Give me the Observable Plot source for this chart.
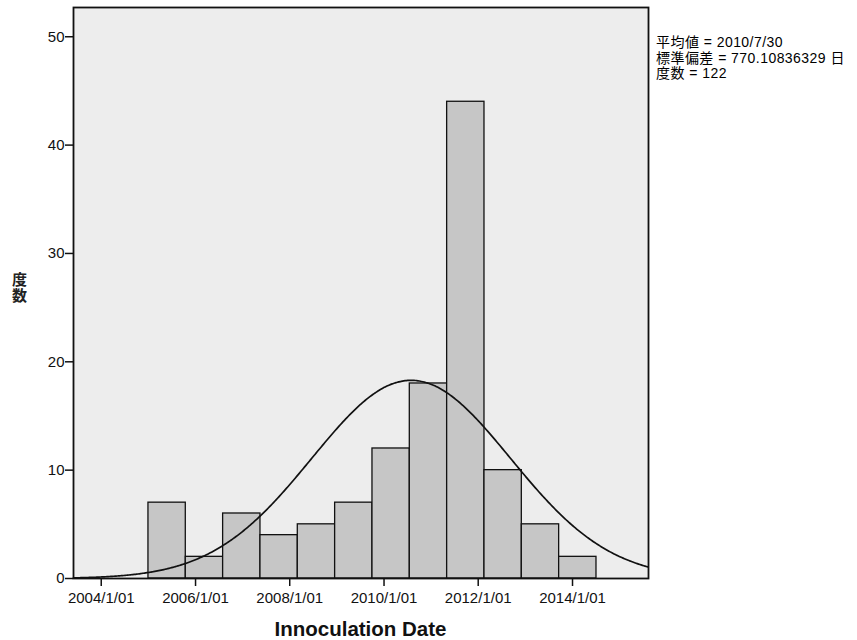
<!DOCTYPE html>
<html>
<head>
<meta charset="utf-8">
<script src="https://cdn.jsdelivr.net/npm/d3@7"></script>
<script src="https://cdn.jsdelivr.net/npm/@observablehq/plot@0.6"></script>
<style>
  html, body { margin: 0; padding: 0; background: #fff; }
  #wrap { position: relative; width: 857px; height: 640px; overflow: hidden; }
  #legend { position: absolute; left: 656px; top: 35px; font-family: "Liberation Sans", "Noto Sans CJK JP", sans-serif; font-size: 14px; letter-spacing: 0.45px; line-height: 15.7px; color: #000; white-space: nowrap; }
  #ylab { position: absolute; left: 11px; top: 272px; writing-mode: vertical-rl; font-family: "Noto Sans CJK JP", sans-serif; font-size: 15px; letter-spacing: 1px; line-height: 16px; font-weight: 700; color: #222; }
  #xlab { position: absolute; left: 73px; width: 575px; top: 619px; line-height: 1; text-align: center; font-family: "Liberation Sans", Arial, sans-serif; font-size: 20.5px; font-weight: 700; color: #111; }
</style>
</head>
<body>
<div id="wrap">
  <div id="chart"></div>
  <div id="legend"></div>
  <div id="ylab">度数</div>
  <div id="xlab">Innoculation Date</div>
</div>
<script>
// ---- data ----
const counts = [7, 2, 6, 4, 5, 7, 12, 18, 44, 10, 5, 2];
const binStart = "2005-01-01";
const binWidthDays = 289.4;
const xTickDates = ["2004-01-01", "2006-01-01", "2008-01-01", "2010-01-01", "2012-01-01", "2014-01-01"];
const xTickLabels = ["2004/1/01", "2006/1/01", "2008/1/01", "2010/1/01", "2012/1/01", "2014/1/01"];
const yTicks = [0, 10, 20, 30, 40, 50];
const statLabels = ["平均値 = 2010/7/30", "標準偏差 = 770.10836329 日", "度数 = 122"];
const meanDate = "2010-07-30";
const sdDays = 770.10836329;
const nTotal = 122;
const xDomain = ["2003-05-31", "2015-08-13"];
const yMax = 52.7;

// ---- build tables ----
const DAY = 86400000;
const t0 = new Date(binStart).getTime();
const bins = counts.map((c, i) => ({
  x1: new Date(t0 + i * binWidthDays * DAY),
  x2: new Date(t0 + (i + 1) * binWidthDays * DAY),
  count: c
}));
const mu = new Date(meanDate).getTime();
const dStart = new Date(xDomain[0]).getTime();
const dEnd = new Date(xDomain[1]).getTime();
const curve = [];
for (let t = dStart; t <= dEnd; t += 10 * DAY) {
  const z = (t - mu) / DAY / sdDays;
  curve.push({x: new Date(t), y: nTotal * binWidthDays / (sdDays * Math.sqrt(2 * Math.PI)) * Math.exp(-0.5 * z * z)});
}
const tickDates = xTickDates.map(d => new Date(d));
const tickMap = new Map(tickDates.map((d, i) => [d.getTime(), xTickLabels[i]]));

const chart = Plot.plot({
  width: 857,
  height: 640,
  marginLeft: 73,
  marginRight: 209,
  marginTop: 7,
  marginBottom: 62,
  style: {fontFamily: "Liberation Sans, Arial, sans-serif", fontSize: "15px", background: "white", color: "#111"},
  x: {type: "utc", domain: xDomain.map(d => new Date(d))},
  y: {domain: [0, yMax]},
  marks: [
    Plot.frame({fill: "#ededed", stroke: "none"}),
    Plot.rect(bins, {x1: "x1", x2: "x2", y1: 0, y2: "count", fill: "#c6c6c6", stroke: "#111", strokeWidth: 1.3}),
    Plot.line(curve, {x: "x", y: "y", stroke: "#111", strokeWidth: 1.7, curve: "monotone-x"}),
    Plot.frame({stroke: "#111", strokeWidth: 1.8}),
    Plot.axisX({ticks: tickDates, tickFormat: d => tickMap.get(d.getTime()), tickSize: 8, tickPadding: 6, label: null, fontSize: 15, strokeWidth: 1.5}),
    Plot.axisY({ticks: yTicks, tickSize: 8, tickPadding: 1, label: null, fontSize: 15, strokeWidth: 1.5})
  ]
});
document.getElementById("chart").appendChild(chart);
document.getElementById("legend").innerHTML = statLabels.join("<br>");
</script>
</body>
</html>
